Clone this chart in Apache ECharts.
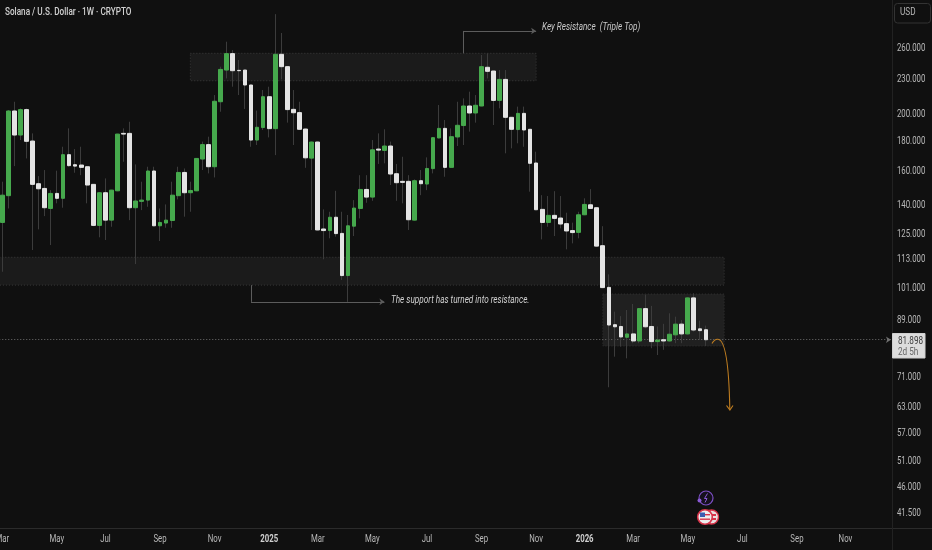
<!DOCTYPE html>
<html><head><meta charset="utf-8">
<style>html,body{margin:0;padding:0;background:#101010;overflow:hidden}#c{width:932px;height:550px}</style>
<script src="https://cdn.jsdelivr.net/npm/echarts@6/dist/echarts.min.js"></script>
</head><body><div id="c"></div>
<script>
const opens = [130.1,144.6,202.0,183.7,203.1,179.4,151.6,148.8,137.5,145.9,
143.1,170.0,163.4,163.2,162.1,151.2,128.6,146.3,131.3,147.4,
184.9,184.9,137.9,141.4,142.1,159.4,128.4,129.8,131.1,144.6,
158.5,146.3,147.4,167.1,176.9,162.1,209.5,237.4,253.3,237.1,
237.4,223.8,180.1,189.2,213.7,188.4,252.6,240.6,203.3,200.7,
188.1,167.7,178.7,126.8,126.0,132.8,124.6,105.5,128.2,137.5,
148.2,143.8,173.8,172.9,175.9,157.7,153.0,153.0,131.3,153.4,
151.4,160.9,181.6,188.6,161.7,182.3,190.7,206.0,200.4,206.0,
240.0,236.5,210.6,228.8,197.0,187.7,200.1,187.9,164.5,137.0,
130.1,133.8,132.4,129.5,126.0,125.1,134.1,139.5,137.9,118.7,
100.7,86.9,86.3,82.7,83.8,81.5,92.6,86.3,81.3,81.9,
81.5,83.5,87.1,83.8,96.6,85.5,85.2];
const closes = [144.9,202.0,183.7,203.1,179.2,151.2,148.6,137.9,145.9,143.1,
170.0,162.8,162.5,161.7,150.8,128.6,146.3,131.3,147.8,184.4,
184.4,137.9,141.6,142.1,159.4,128.4,130.1,131.3,144.9,158.5,
146.3,147.6,167.5,176.9,162.1,209.9,238.0,253.3,236.8,236.8,
223.8,180.1,189.4,213.7,188.4,252.6,240.6,203.1,200.6,187.9,
167.9,178.7,126.3,126.0,132.8,124.5,105.5,128.4,137.7,148.2,
143.8,173.3,173.1,175.9,157.5,152.2,152.4,131.5,153.4,151.6,
161.0,181.8,188.6,161.7,182.5,190.9,206.0,200.4,206.6,240.6,
236.2,210.6,228.8,197.0,187.9,200.1,187.4,164.3,136.8,130.1,
133.8,132.2,129.3,125.8,125.0,134.1,139.7,137.5,118.5,100.6,
86.8,86.2,82.8,83.8,81.5,92.6,86.2,81.3,81.8,81.5,
83.7,87.1,83.8,96.6,85.1,84.9,81.9];
const lows = [107.1,137.5,162.5,180.1,167.5,116.7,126.6,133.4,119.0,140.3,
137.9,162.1,158.3,156.8,140.3,128.2,122.7,121.4,127.9,147.2,
165.3,131.3,110.4,136.6,138.4,128.2,120.9,127.4,127.4,142.5,
133.1,135.7,147.2,160.0,157.9,155.4,201.4,229.7,222.3,215.1,
203.6,175.4,176.6,187.4,182.0,169.7,228.8,192.9,176.6,187.4,
161.4,126.3,126.1,112.5,122.2,123.0,103.7,95.1,123.3,132.2,
140.6,141.7,163.9,164.3,150.8,141.7,140.3,126.3,131.1,144.9,
147.8,157.9,181.3,155.8,161.5,175.9,176.6,186.2,192.9,205.8,
229.7,191.1,204.1,170.9,174.3,177.8,175.4,146.9,136.6,121.7,
127.9,123.3,127.1,117.0,119.8,122.2,133.9,137.3,118.2,100.4,
67.9,76.6,79.7,76.1,80.8,80.8,85.7,79.2,77.1,78.7,
81.3,80.8,80.8,83.6,84.6,81.8,79.9];
const highs = [152.8,202.8,209.5,204.0,204.0,184.9,156.2,160.0,147.8,159.6,
175.4,188.6,173.8,175.4,162.5,151.4,146.5,154.8,148.0,184.6,
188.6,193.6,163.6,152.8,162.1,162.1,137.5,139.7,152.8,162.1,
161.0,152.8,167.7,179.0,182.5,215.1,240.6,265.5,256.9,247.0,
237.6,224.0,202.3,219.4,222.3,296.0,274.8,241.0,219.4,209.5,
188.4,179.0,179.0,137.0,135.7,147.4,135.7,134.0,142.1,156.8,
156.8,180.1,184.9,187.9,179.0,163.9,168.6,156.8,154.2,160.0,
168.2,182.0,206.8,194.9,188.6,209.5,212.3,218.0,215.1,251.9,
253.6,236.7,237.4,237.4,197.2,205.5,205.5,188.1,172.0,144.9,
144.4,147.2,144.4,135.2,130.0,135.7,143.1,148.4,138.1,128.2,
106.0,91.5,89.9,92.1,94.3,92.8,97.8,93.6,86.3,87.2,
90.9,89.7,88.5,96.8,98.4,88.3,86.6];

const priceTicks = [260,230,200,180,160,140,125,113,101,89,71,63,57,51,46,41.5];
const timeTickWeeks = [0,9,17,26,35,44,52,61,70,79,88,96,104,113,122,131,139];
const timeTickLabels = ['Mar','May','Jul','Sep','Nov','2025','Mar','May','Jul','Sep','Nov','2026','Mar','May','Jul','Sep','Nov'];
const lastPrice = 81.898;
const zoneResistance = [227.6, 253.6];
const zoneSupport = [101.6, 113.4];
const zoneRange = [79.9, 98.1];

// The reference's type is horizontally compressed; no condensed face is installed.
const TEXT_SQUEEZE = 0.78;
const nativeFillText = CanvasRenderingContext2D.prototype.fillText;
CanvasRenderingContext2D.prototype.fillText = function (t, x, y, m) {
  this.save();
  this.scale(TEXT_SQUEEZE, 1);
  if (m === undefined) nativeFillText.call(this, t, x / TEXT_SQUEEZE, y);
  else nativeFillText.call(this, t, x / TEXT_SQUEEZE, y, m);
  this.restore();
};

const weekCount = 147;
const categories = [];
for (let i = 0; i < weekCount; i++) {
  categories.push(new Date(Date.UTC(2024, 2, 4 + i * 7)).toISOString().slice(0, 10));
}
const wicks = opens.map((o, i) => [o, closes[i], lows[i], highs[i]]);
const bodies = opens.map((o, i) => [o, closes[i], Math.min(o, closes[i]), Math.max(o, closes[i])]);

const FONT = 'Roboto,"Liberation Sans",sans-serif';
const UP = '#46a94d', DOWN = '#e4e4e4', WICK = '#3c3c3c';
const LEADER = { color: '#5c5c5c', width: 1, type: 'solid' };

const chart = echarts.init(document.getElementById('c'), null, { renderer: 'canvas', width: 932, height: 550 });
chart.setOption({
  animation: false,
  backgroundColor: '#101010',
  title: { text: 'Solana / U.S. Dollar · 1W · CRYPTO', left: 5, top: 7, padding: 0,
    textStyle: { color: '#d2d2d2', fontFamily: FONT, fontSize: 10.5, fontWeight: 500 } },
  grid: { left: -0.73, top: 0, width: 891.7, height: 528, containLabel: false, outerBoundsMode: 'none' },
  xAxis: {
    type: 'category', data: categories, boundaryGap: true,
    axisLine: { show: false }, axisTick: { show: false }, splitLine: { show: false },
    axisLabel: {
      interval: (i) => timeTickWeeks.includes(i),
      showMinLabel: true,
      margin: 6,
      color: '#b8b8b8', fontFamily: FONT, fontSize: 10,
      formatter: (v, i) => {
        const l = timeTickLabels[timeTickWeeks.indexOf(i)] || '';
        return /^\d/.test(l) ? '{b|' + l + '}' : l;
      },
      rich: { b: { color: '#d0d0d0', fontFamily: FONT, fontSize: 10, fontWeight: 'bold' } }
    }
  },
  yAxis: {
    type: 'log', logBase: Math.E, position: 'right', min: 38.96, max: 313, scale: true,
    axisLine: { show: false }, axisTick: { show: false }, splitLine: { show: false }, minorTick: { show: false },
    axisLabel: {
      customValues: priceTicks, margin: 6, verticalAlign: 'top', lineHeight: 3,
      color: '#b8b8b8', fontFamily: FONT, fontSize: 10,
      formatter: (v) => Number(v).toFixed(3)
    }
  },
  series: [
    {
      name: 'Range', type: 'candlestick', data: wicks, barWidth: 1, z: 3, clip: true,
      itemStyle: { color: WICK, color0: WICK, borderColor: WICK, borderColor0: WICK, borderWidth: 1 },
      markArea: {
        silent: true, z: 1,
        data: [
          [{ xAxis: 31, yAxis: zoneResistance[1], itemStyle: { color: '#1b1b1b', borderColor: '#3a3a3a', borderWidth: 1, borderType: [1, 2] } },
           { xAxis: 88, yAxis: zoneResistance[0] }],
          [{ yAxis: zoneSupport[1], itemStyle: { color: '#1b1b1b', borderColor: '#3a3a3a', borderWidth: 1, borderType: [1, 2] } },
           { xAxis: 119, yAxis: zoneSupport[0] }],
          [{ xAxis: 99, yAxis: zoneRange[1], itemStyle: { color: '#202020', borderColor: '#333333', borderWidth: 1, borderType: [1, 2] } },
           { xAxis: 119, yAxis: zoneRange[0] }]
        ]
      },
      markLine: {
        silent: true, z: 2, symbolSize: 5,
        label: { show: false },
        data: [
          { yAxis: lastPrice, symbol: 'none', lineStyle: { color: '#707070', width: 1, type: [1, 2] } },
          [{ xAxis: 76, yAxis: 253.6, symbol: 'none', lineStyle: LEADER },
           { xAxis: 76, yAxis: 277, symbol: 'none' }],
          [{ xAxis: 76, yAxis: 277, symbol: 'none', lineStyle: LEADER },
           { xAxis: 88, yAxis: 277, symbol: 'arrow' }],
          [{ xAxis: 41, yAxis: 101.6, symbol: 'none', lineStyle: LEADER },
           { xAxis: 41, yAxis: 95.1, symbol: 'none' }],
          [{ xAxis: 41, yAxis: 95.1, symbol: 'none', lineStyle: LEADER },
           { xAxis: 63, yAxis: 95.1, symbol: 'arrow' }]
        ]
      }
    },
    {
      name: 'SOLUSD', type: 'candlestick', data: bodies, barWidth: 4.2, z: 4, clip: true,
      itemStyle: { color: UP, color0: DOWN, borderColor: UP, borderColor0: DOWN, borderWidth: 1 }
    }
  ],
  graphic: [
    { type: 'line', silent: true, shape: { x1: 0, y1: 528.5, x2: 932, y2: 528.5 }, style: { stroke: '#2b2b2b', lineWidth: 1 } },
    { type: 'line', silent: true, shape: { x1: 892.5, y1: 0, x2: 892.5, y2: 550 }, style: { stroke: '#222222', lineWidth: 1 } },
    { type: 'text', silent: true, left: 542, top: 21.5, style: { text: 'Key Resistance  (Triple Top)', fill: '#c8c8c8', font: 'italic 10.5px ' + FONT } },
    { type: 'text', silent: true, left: 391, top: 294.5, style: { text: 'The support has turned into resistance.', fill: '#d0d0d0', font: 'italic 10.5px ' + FONT } },
    { type: 'bezierCurve', silent: true, z: 20, shape: { x1: 712, y1: 343.5, cpx1: 714, cpy1: 340, cpx2: 716, cpy2: 339, x2: 718, y2: 339.3 }, style: { stroke: '#bf7d20', fill: null, lineWidth: 1.1 } },
    { type: 'bezierCurve', silent: true, z: 20, shape: { x1: 718, y1: 339.3, cpx1: 725, cpy1: 340, cpx2: 729, cpy2: 365, x2: 729.8, y2: 409 }, style: { stroke: '#bf7d20', fill: null, lineWidth: 1.1 } },
    { type: 'polyline', silent: true, z: 20, shape: { points: [[726.5, 405.5], [729.9, 410], [733, 405.5]] }, style: { stroke: '#bf7d20', fill: null, lineWidth: 1.1 } },
    { type: 'rect', silent: true, z: 20, shape: { x: 892.5, y: 333.5, width: 32.5, height: 24.5 }, style: { fill: '#dcdcdc', stroke: '#cfcfcf' } },
    { type: 'text', silent: true, z: 21, left: 898, top: 336, style: { text: '81.898', fill: '#3a3a3a', font: '10.5px ' + FONT } },
    { type: 'text', silent: true, z: 21, left: 898, top: 346.5, style: { text: '2d 5h', fill: '#666666', font: '10.5px ' + FONT } },
    { type: 'rect', silent: true, z: 20, shape: { x: 894.5, y: 3.5, width: 36, height: 19.5, r: 3 }, style: { fill: '#101010', stroke: '#333333' } },
    { type: 'text', silent: true, z: 21, left: 900, top: 7, style: { text: 'USD', fill: '#b8b8b8', font: '10.5px ' + FONT } },
    { type: 'circle', silent: true, z: 20, shape: { cx: 706, cy: 498, r: 7 }, style: { fill: '#15101d', stroke: '#7c4fc4', lineWidth: 1.2 } },
    { type: 'polyline', silent: true, z: 21, shape: { points: [[707.5, 493.5], [704.5, 498.5], [707, 498.5], [705, 502.5]] }, style: { stroke: '#8a5ad6', fill: null, lineWidth: 1 } },
    { type: 'circle', silent: true, z: 21, shape: { cx: 699.5, cy: 500.5, r: 2 }, style: { fill: '#8a5ad6' } },
    { type: 'circle', silent: true, z: 20, shape: { cx: 711.5, cy: 517, r: 7 }, style: { fill: '#e8e0e0', stroke: '#d8344a', lineWidth: 1.4 } },
    { type: 'rect', silent: true, z: 20, shape: { x: 707, y: 514, width: 9, height: 2 }, style: { fill: '#d8344a' } },
    { type: 'rect', silent: true, z: 20, shape: { x: 707, y: 518, width: 9, height: 2 }, style: { fill: '#d8344a' } },
    { type: 'circle', silent: true, z: 22, shape: { cx: 705, cy: 517, r: 7.3 }, style: { fill: '#eeeeee', stroke: '#d8344a', lineWidth: 1.6 } },
    { type: 'rect', silent: true, z: 23, shape: { x: 700, y: 512.5, width: 5, height: 4.5 }, style: { fill: '#3b5db0' } },
    { type: 'rect', silent: true, z: 23, shape: { x: 705, y: 514, width: 5, height: 1.4 }, style: { fill: '#d8344a' } },
    { type: 'rect', silent: true, z: 23, shape: { x: 700, y: 518.5, width: 10, height: 1.4 }, style: { fill: '#d8344a' } }
  ]
});
</script></body></html>
